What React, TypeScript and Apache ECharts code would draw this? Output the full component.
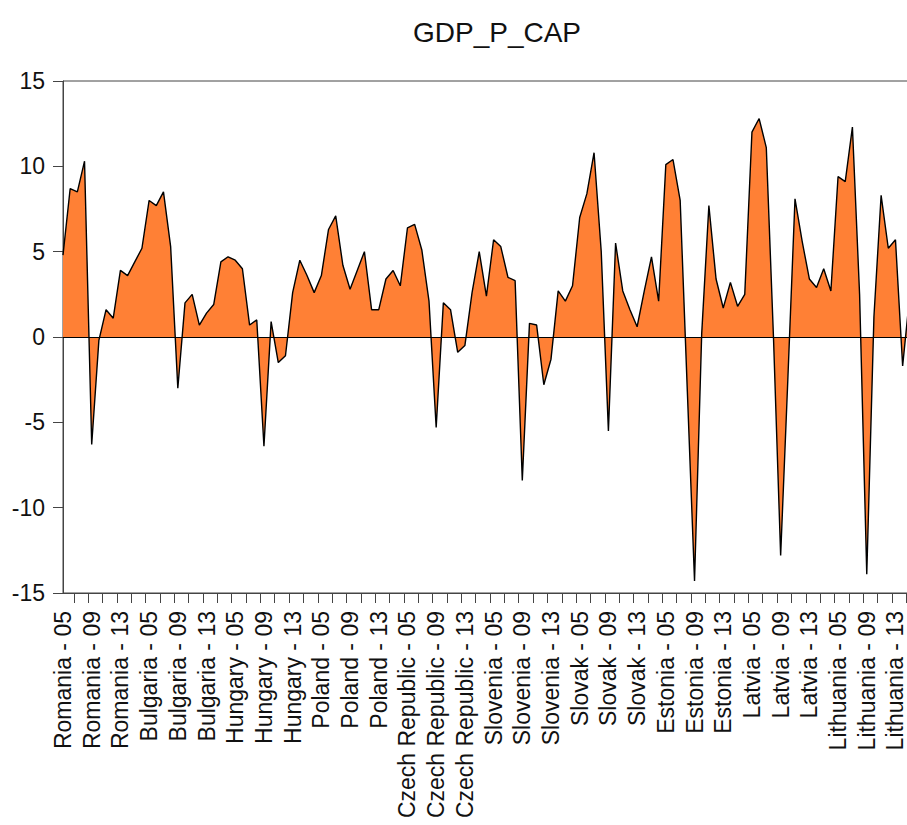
import React, { useEffect, useRef } from "react";
import * as echarts from "echarts";

const countries = ["Romania", "Bulgaria", "Hungary", "Poland", "Czech Republic", "Slovenia", "Slovak", "Estonia", "Latvia", "Lithuania"];
const years = ["05", "06", "07", "08", "09", "10", "11", "12", "13", "14", "15", "16"];
const labelYears = ["05", "09", "13"];
const yTicks = [-15, -10, -5, 0, 5, 10, 15];

const romania = [4.8, 8.7, 8.5, 10.3, -6.3, -0.2, 1.6, 1.1, 3.9, 3.6, 4.4, 5.2];
const bulgaria = [8.0, 7.7, 8.5, 5.3, -3.0, 2.0, 2.5, 0.7, 1.4, 1.9, 4.4, 4.7];
const hungary = [4.5, 4.0, 0.7, 1.0, -6.4, 0.9, -1.5, -1.1, 2.6, 4.5, 3.6, 2.6];
const poland = [3.6, 6.3, 7.1, 4.2, 2.8, 3.9, 5.0, 1.6, 1.6, 3.4, 3.9, 3.0];
const czech = [6.4, 6.6, 5.1, 2.1, -5.3, 2.0, 1.6, -0.9, -0.5, 2.6, 5.0, 2.4];
const slovenia = [5.7, 5.3, 3.5, 3.3, -8.4, 0.8, 0.7, -2.8, -1.3, 2.7, 2.1, 3.0];
const slovak = [7.0, 8.4, 10.8, 5.0, -5.5, 5.5, 2.7, 1.6, 0.6, 2.7, 4.7, 2.1];
const estonia = [10.1, 10.4, 8.0, -3.2, -14.3, 0.2, 7.7, 3.4, 1.7, 3.2, 1.8, 2.5];
const latvia = [12.0, 12.8, 11.1, 0.0, -12.8, -2.5, 8.1, 5.6, 3.4, 2.9, 4.0, 2.7];
const lithuania = [9.4, 9.1, 12.3, 2.5, -13.9, 1.2, 8.3, 5.2, 5.7, -1.7, 2.5, 3.0];

const seriesByCountry = [romania, bulgaria, hungary, poland, czech, slovenia, slovak, estonia, latvia, lithuania];

export default function App() {
  const ref = useRef<HTMLDivElement>(null);

  useEffect(() => {
    if (!ref.current) return;
    const chart = echarts.init(ref.current, null, { renderer: "svg" });

    const categories: string[] = [];
    const values: number[] = [];
    countries.forEach((c, ci) => {
      years.forEach((y, yi) => {
        categories.push(c + " - " + y);
        values.push(seriesByCountry[ci][yi]);
      });
    });
    const n = categories.length;
    const data = values.map((v, i) => [i, v]);

    const labelIdx: number[] = [];
    categories.forEach((cat, i) => {
      const yy = years[i % years.length];
      if (labelYears.includes(yy)) labelIdx.push(i);
    });
    const tickIdx: number[] = [];
    for (let i = 1; i < n - 1; i += 2) tickIdx.push(i + 0.5);

    const font = "'Liberation Sans', Arial, sans-serif";
    const axisColor = "#444";

    chart.setOption({
      animation: false,
      backgroundColor: "#fff",
      title: {
        text: "GDP_P_CAP",
        left: 492,
        textAlign: "center",
        top: 13,
        textStyle: { fontFamily: font, fontSize: 28, fontWeight: "normal", color: "#111" },
      },
      grid: {
        left: 63,
        top: 81,
        width: 854,
        height: 512,
        show: true,
        borderColor: axisColor,
        borderWidth: 1,
        backgroundColor: "transparent",
      },
      xAxis: {
        type: "value",
        min: 0,
        max: n - 1,
        axisLine: { show: true, onZero: false, lineStyle: { color: axisColor, width: 1 } },
        axisTick: { show: true, inside: false, length: 10, customValues: tickIdx, lineStyle: { color: axisColor } },
        axisLabel: {
          customValues: labelIdx,
          rotate: 90,
          margin: 18,
          fontSize: 23,
          fontFamily: font,
          color: "#111",
          formatter: (v: number) => categories[Math.round(v)] ?? "",
        },
        splitLine: { show: false },
      },
      yAxis: {
        type: "value",
        min: yTicks[0],
        max: yTicks[yTicks.length - 1],
        interval: 5,
        axisLine: { show: true, lineStyle: { color: axisColor, width: 1 } },
        axisTick: { show: true, inside: false, length: 10, lineStyle: { color: axisColor } },
        axisLabel: { margin: 18, fontSize: 23, fontFamily: font, color: "#111" },
        splitLine: { show: false },
      },
      series: [
        {
          type: "line",
          data,
          showSymbol: false,
          symbol: "none",
          lineStyle: { color: "#000", width: 1.4 },
          areaStyle: { color: "#FF8035", opacity: 1, origin: 0 },
          markLine: {
            silent: true,
            symbol: "none",
            label: { show: false },
            lineStyle: { color: "#000", width: 1, type: "solid" },
            data: [{ yAxis: 0 }],
          },
        },
      ],
    });

    return () => chart.dispose();
  }, []);

  return (
    <div style={{ position: "fixed", left: 0, top: 0, width: 907, height: 825, overflow: "hidden", background: "#fff" }}>
      <div ref={ref} style={{ position: "absolute", left: 0, top: 0, width: 960, height: 825 }} />
    </div>
  );
}
